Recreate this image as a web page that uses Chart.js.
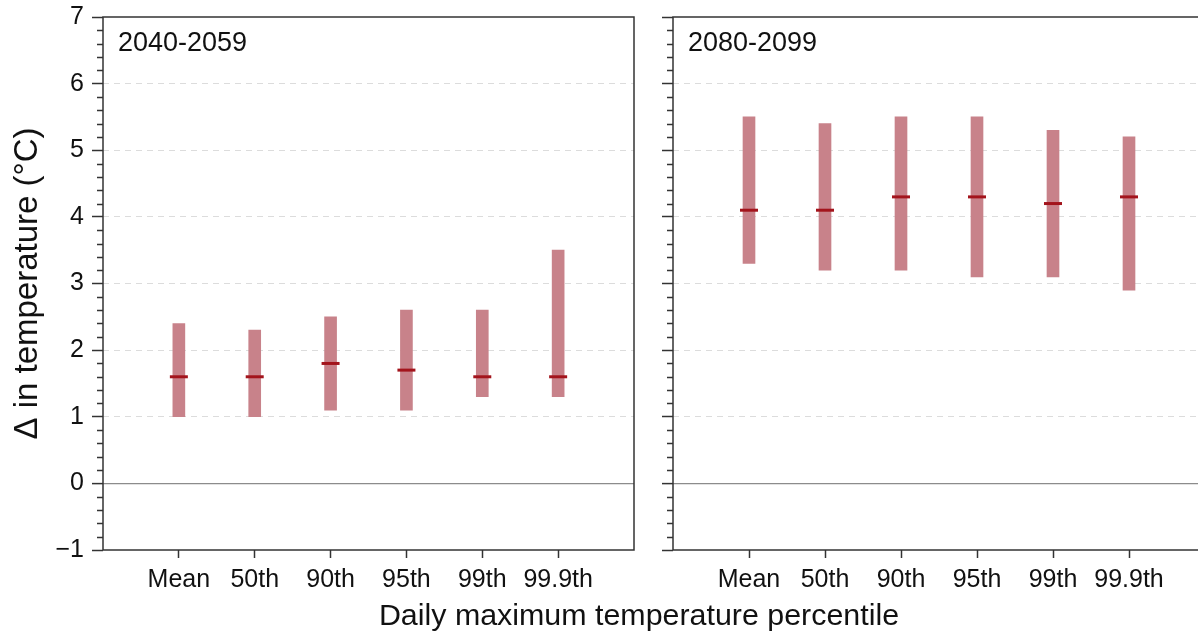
<!DOCTYPE html>
<html>
<head>
<meta charset="utf-8">
<script src="https://cdn.jsdelivr.net/npm/chart.js@4/dist/chart.umd.min.js"></script>
<style>
  html, body { margin: 0; padding: 0; background: #fff; overflow: hidden; }
  body { width: 1198px; height: 636px; position: relative; font-family: "Liberation Sans", Arial, Helvetica, sans-serif; }
  canvas { position: absolute; top: 0; }
  .txt { position: absolute; line-height: 1; color: #111; white-space: nowrap; }
</style>
</head>
<body>
<canvas id="c1" width="640" height="636" style="left:0;width:640px;height:636px;"></canvas>
<canvas id="c2" width="570" height="636" style="left:640px;width:570px;height:636px;"></canvas>
<div id="t1" class="txt" style="left:118px;top:29px;font-size:27px;"></div>
<div id="t2" class="txt" style="left:688px;top:29px;font-size:27px;"></div>
<div id="xt" class="txt" style="left:0;width:1278px;text-align:center;top:599px;font-size:30.4px;"></div>
<script>
const categories = ['Mean', '50th', '90th', '95th', '99th', '99.9th'];
const periods = ['2040-2059', '2080-2099'];
const low2040 = [1.0, 1.0, 1.1, 1.1, 1.3, 1.3];
const high2040 = [2.4, 2.3, 2.5, 2.6, 2.6, 3.5];
const median2040 = [1.6, 1.6, 1.8, 1.7, 1.6, 1.6];
const low2080 = [3.3, 3.2, 3.2, 3.1, 3.1, 2.9];
const high2080 = [5.5, 5.4, 5.5, 5.5, 5.3, 5.2];
const median2080 = [4.1, 4.1, 4.3, 4.3, 4.2, 4.3];
const yTicks = [-1, 0, 1, 2, 3, 4, 5, 6, 7];
const yTitle = 'Δ in temperature (°C)';
const xTitle = 'Daily maximum temperature percentile';

document.getElementById('t1').textContent = periods[0];
document.getElementById('t2').textContent = periods[1];
document.getElementById('xt').textContent = xTitle;

const FONT = '"Liberation Sans", Arial, Helvetica, sans-serif';
const AX = '#333333';

const framePlugin = {
  id: 'frame',
  afterDatasetsDraw(chart) {
    const a = chart.chartArea, ctx = chart.ctx;
    ctx.save();
    ctx.strokeStyle = AX;
    ctx.lineWidth = 1.5;
    ctx.strokeRect(a.left, a.top, a.right - a.left, a.bottom - a.top);
    const ys = chart.scales.y;
    ctx.lineWidth = 1.3;
    ctx.beginPath();
    for (let i = yTicks[0] * 5; i <= yTicks[yTicks.length - 1] * 5; i++) {
      if (i % 5 === 0) continue;
      const py = Math.round(ys.getPixelForValue(i / 5)) + 0.5;
      ctx.moveTo(a.left - 6, py);
      ctx.lineTo(a.left, py);
    }
    ctx.stroke();
    ctx.restore();
  }
};

function makeChart(id, low, high, med, showLabels) {
  const barData = categories.map((c, i) => ({ x: i + 1, y: [low[i], high[i]] }));
  const medData = categories.map((c, i) => ({ x: i + 1, y: med[i] }));
  return new Chart(document.getElementById(id), {
    type: 'bar',
    data: {
      datasets: [
        {
          type: 'bar',
          data: barData,
          backgroundColor: '#c8828a',
          borderWidth: 0,
          barThickness: 12,
          order: 2
        },
        {
          type: 'scatter',
          data: medData,
          pointStyle: 'line',
          radius: 9,
          borderWidth: 3,
          borderColor: '#a3141c',
          backgroundColor: '#a3141c',
          order: 1
        }
      ]
    },
    options: {
      responsive: false,
      animation: false,
      events: [],
      layout: { autoPadding: false, padding: { top: 17, right: showLabels ? 6 : 5, bottom: 0, left: 0 } },
      plugins: { legend: { display: false }, tooltip: { enabled: false }, title: { display: false } },
      scales: {
        x: {
          type: 'linear',
          offset: false,
          min: 0,
          max: categories.length + 1,
          afterBuildTicks: (s) => { s.ticks = categories.map((c, i) => ({ value: i + 1 })); },
          afterFit: (s) => { s.height = 86; s.paddingLeft = 0; s.paddingRight = 0; },
          ticks: {
            autoSkip: false,
            maxRotation: 0,
            padding: 7,
            color: '#111',
            font: { family: FONT, size: 25 },
            callback: (v) => categories[Math.round(v) - 1]
          },
          grid: { offset: false, drawOnChartArea: false, drawTicks: true, tickLength: 8, tickColor: AX, tickWidth: 1.5 },
          border: { display: false }
        },
        y: {
          type: 'linear',
          min: yTicks[0],
          max: yTicks[yTicks.length - 1],
          afterBuildTicks: (s) => { s.ticks = yTicks.map(v => ({ value: v })); },
          afterFit: (s) => { s.width = showLabels ? 103 : 33; s.paddingTop = 0; s.paddingBottom = 0; },
          ticks: {
            display: showLabels,
            padding: 8,
            color: '#111',
            font: { family: FONT, size: 25 },
            callback: (v) => (v < 0 ? '\u2212' + Math.abs(v) : String(v))
          },
          title: {
            display: showLabels,
            text: yTitle,
            color: '#111',
            font: { family: FONT, size: 33 },
            padding: { top: 8, bottom: 0 }
          },
          grid: {
            offset: false,
            drawTicks: true,
            tickLength: 11,
            tickColor: AX,
            tickWidth: 1.5,
            lineWidth: (c) => (c.tick && c.tick.value === 0 ? 1.2 : 1),
            color: (c) => {
              const v = c.tick ? c.tick.value : null;
              if (v === 0) return '#8c8c8c';
              if (v !== null && v > yTicks[0] && v < yTicks[yTicks.length - 1]) return '#dcdcdc';
              return 'rgba(0,0,0,0)';
            }
          },
          border: { display: false, dash: (c) => (c.tick && c.tick.value !== 0 ? [6, 5] : []) }
        }
      }
    },
    plugins: [framePlugin]
  });
}

makeChart('c1', low2040, high2040, median2040, true);
makeChart('c2', low2080, high2080, median2080, false);
</script>
</body>
</html>
